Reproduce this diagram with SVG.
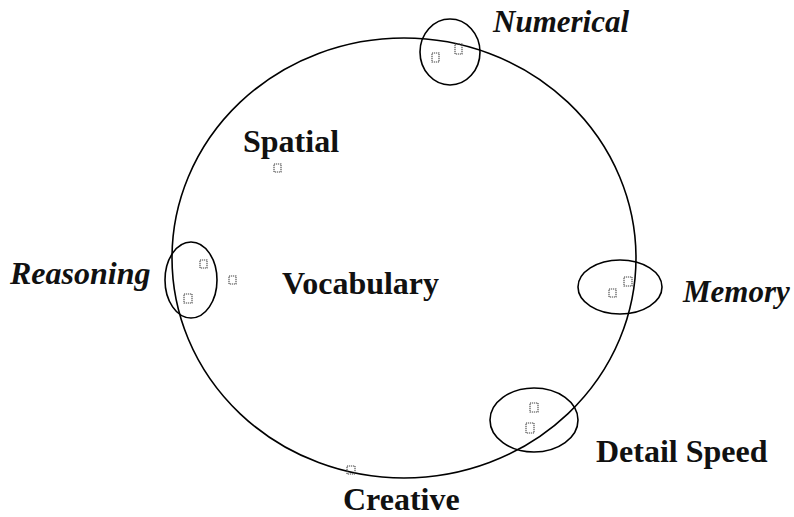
<svg xmlns="http://www.w3.org/2000/svg" width="794" height="517" viewBox="0 0 794 517">
<style>
.ln{fill:none;stroke:#000;stroke-width:1.6}
.sq{fill:none;stroke:#444;stroke-width:1.1;stroke-dasharray:1.2 0.8}
.lb{font-family:"Liberation Serif",serif;font-weight:bold;font-size:32px;fill:#111}
.it{font-style:italic;font-size:31px}
</style>
<rect width="794" height="517" fill="#fff"/>
<g id="connectors">
<ellipse class="ln" cx="404" cy="258" rx="232" ry="220"/>
</g>
<g id="numerical">
<ellipse class="ln" cx="450" cy="52" rx="30" ry="33"/>
<rect class="sq" x="432" y="53" width="7" height="9"/>
<rect class="sq" x="455" y="44" width="7" height="10"/>
<text class="lb it" x="493" y="32">Numerical</text>
</g>
<g id="spatial">
<rect class="sq" x="274" y="164" width="7" height="8"/>
<text class="lb" x="243" y="152">Spatial</text>
</g>
<g id="reasoning">
<ellipse class="ln" cx="191" cy="280" rx="26" ry="38"/>
<rect class="sq" x="200" y="260" width="7" height="8"/>
<rect class="sq" x="184" y="294" width="8" height="9"/>
<text class="lb it" x="10" y="284" style="font-size:32px">Reasoning</text>
</g>
<g id="vocabulary">
<rect class="sq" x="229" y="276" width="7" height="8"/>
<text class="lb" x="282" y="294">Vocabulary</text>
</g>
<g id="memory">
<ellipse class="ln" cx="620" cy="287" rx="42" ry="27"/>
<rect class="sq" x="609" y="289" width="7" height="8"/>
<rect class="sq" x="624" y="277" width="8" height="9"/>
<text class="lb it" x="683" y="302">Memory</text>
</g>
<g id="detail-speed">
<ellipse class="ln" cx="534" cy="420" rx="44" ry="32"/>
<rect class="sq" x="530" y="403" width="8" height="9"/>
<rect class="sq" x="526" y="423" width="8" height="10"/>
<text class="lb" x="596" y="462">Detail Speed</text>
</g>
<g id="creative">
<rect class="sq" x="347" y="466" width="8" height="8"/>
<text class="lb" x="343" y="510">Creative</text>
</g>
</svg>
